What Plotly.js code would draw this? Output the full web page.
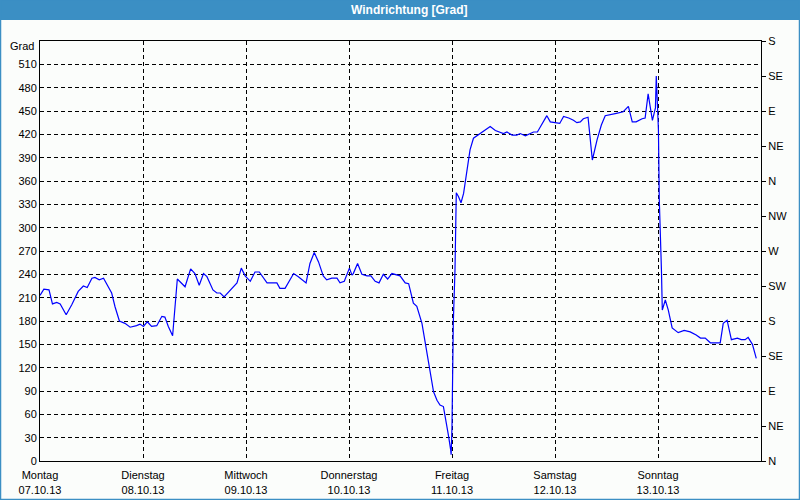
<!DOCTYPE html>
<html>
<head>
<meta charset="utf-8">
<script src="https://cdn.plot.ly/plotly-3.0.1.min.js"></script>
<style>html,body{margin:0;padding:0;background:#fbfdfb;}#chart{width:800px;height:500px;}</style>
</head>
<body>
<div id="chart"></div>
<script>
// hours since Monday 07.10.13 00:00
const hours = [0,0.9,2.1,2.9,3.9,4.7,6.1,7.4,8.9,10.1,11.0,12.1,12.8,13.8,14.8,15.9,16.7,17.5,18.5,19.8,21.0,22.5,23.3,24.1,25.0,26.0,27.2,28.4,29.1,29.9,30.9,32.0,33.8,35.1,36.1,37.1,38.1,38.9,40.3,41.2,42.0,42.9,44.3,45.9,46.9,47.8,49.0,50.1,51.1,52.9,55.2,55.9,57.1,59.1,60.2,62.0,62.9,63.9,64.9,66.0,66.8,68.0,69.2,69.9,70.9,71.6,72.1,72.7,73.0,74.0,75.0,76.2,77.1,78.1,79.0,80.0,81.0,82.0,83.0,83.9,85.1,85.9,87.0,87.8,89.0,90.1,91.1,91.7,92.5,93.2,94.0,94.6,95.2,95.7,95.8,96.0,96.2,96.3,96.7,97.0,97.5,98.1,98.7,99.3,99.8,100.2,101.0,101.8,103.0,104.1,104.9,106.1,107.2,108.0,108.8,110.0,111.1,111.9,113.1,113.8,115.0,115.9,117.0,118.1,118.9,120.1,121.1,122.0,123.2,124.3,125.1,125.9,126.6,127.7,128.7,129.8,130.8,131.7,132.9,134.3,135.9,137.1,138.0,138.9,140.3,141.0,141.7,142.7,143.4,143.6,144.1,144.3,144.8,145.0,145.7,146.4,147.3,148.7,150.1,151.5,152.9,153.9,155.0,156.2,157.3,158.5,159.2,160.1,161.1,162.5,163.4,164.3,165.0,166.0,166.9];
const degrees = [213,221,220,202,204,202,188,201,218,225,223,235,236,233,235,225,216,198,180,177,172,174,176,173,179,173,174,186,185,173,161,234,224,247,241,226,241,237,220,216,216,211,220,229,248,238,231,243,243,229,229,222,222,241,237,229,254,268,256,238,233,235,235,229,231,241,248,239,241,254,240,238,238,231,229,240,234,241,239,238,229,228,203,199,177,143,113,89,78,72,70,53,32,14,8,44,108,177,246,345,340,332,344,366,387,400,415,418,423,427,430,425,423,421,423,419,419,421,418,420,423,423,434,444,436,435,434,443,441,438,435,436,440,442,387,413,432,444,445,447,449,456,436,436,440,441,472,438,454,495,426,336,246,194,207,194,171,165,168,166,162,158,158,152,152,152,177,181,156,158,156,156,159,150,132];

const dayTicks = [0,24,48,72,96,120,144];
const dayNames = ["Montag","Dienstag","Mittwoch","Donnerstag","Freitag","Samstag","Sonntag"];
const dayDates = ["07.10.13","08.10.13","09.10.13","10.10.13","11.10.13","12.10.13","13.10.13"];
const gradTicks = [0,30,60,90,120,150,180,210,240,270,300,330,360,390,420,450,480,510];
const compassTicks = [0,45,90,135,180,225,270,315,360,405,450,495,540];
const compassLabels = ["N","NE","E","SE","S","SW","W","NW","N","NE","E","SE","S"];
const chartTitle = "Windrichtung [Grad]";
const unitLabel = "Grad";

const W = 800, H = 500, L = 40, R = 39, T = 41, B = 39;
const pw = W - L - R, ph = H - T - B;
const barColor = "#3b8fc4";
const font = {family: "Liberation Sans, Arial, sans-serif", size: 11, color: "#000"};

const traces = [
  {x: hours, y: degrees, type: "scatter", mode: "lines",
   line: {color: "#0000ff", width: 1.2}, hoverinfo: "skip", showlegend: false},
  {x: [hours[0]], y: [degrees[0]], yaxis: "y2", type: "scatter", mode: "markers",
   marker: {opacity: 0}, hoverinfo: "skip", showlegend: false}
];

const layout = {
  width: W, height: H,
  margin: {l: L, r: R, t: T, b: B, pad: 0},
  paper_bgcolor: "#fbfdfb", plot_bgcolor: "#fbfdfb",
  font: font,
  showlegend: false,
  xaxis: {
    range: [0, 168], tickvals: dayTicks,
    ticktext: dayNames.map((d, i) => d + "<br>" + dayDates[i]),
    showgrid: true, gridcolor: "#000", gridwidth: 1, griddash: "4px,3px",
    showline: true, linecolor: "#000", linewidth: 1, mirror: true,
    zeroline: false, ticks: "", ticklabelstandoff: 4, tickfont: font, fixedrange: true
  },
  yaxis: {
    range: [0, 540], tickvals: gradTicks,
    showgrid: true, gridcolor: "#000", gridwidth: 1, griddash: "4px,3px",
    showline: true, linecolor: "#000", linewidth: 1,
    zeroline: false, ticks: "", tickfont: font, fixedrange: true
  },
  yaxis2: {
    range: [0, 540], overlaying: "y", side: "right",
    tickvals: compassTicks, ticktext: compassLabels,
    showgrid: false, showline: true, linecolor: "#000", linewidth: 1,
    zeroline: false, ticks: "outside", ticklen: 4, tickcolor: "#000",
    tickfont: font, fixedrange: true
  },
  shapes: [
    {type: "rect", xref: "paper", yref: "paper", layer: "below",
     x0: -L / pw, x1: 1 + R / pw, y0: 1 + (T - 20) / ph, y1: 1 + T / ph,
     fillcolor: barColor, line: {width: 0}},
    {type: "rect", xref: "paper", yref: "paper", layer: "above",
     x0: -L / pw + 0.5 / pw, x1: 1 + R / pw - 0.5 / pw, y0: -B / ph + 0.5 / ph, y1: 1 + T / ph,
     fillcolor: "rgba(0,0,0,0)", line: {width: 1.5, color: barColor}}
  ],
  annotations: [
    {text: "<b>" + chartTitle + "</b>", xref: "paper", yref: "paper",
     x: (409 - L) / pw, y: 1 + (T - 10) / ph, xanchor: "center", yanchor: "middle",
     showarrow: false, font: {family: "Liberation Sans, Arial, sans-serif", size: 12, color: "#fff"}},
    {text: unitLabel, xref: "paper", yref: "paper", x: 0, y: 1, xanchor: "right", yanchor: "middle",
     xshift: -4, yshift: -5, showarrow: false, font: font}
  ]
};

Plotly.newPlot("chart", traces, layout, {displayModeBar: false, staticPlot: true});
</script>
</body>
</html>
